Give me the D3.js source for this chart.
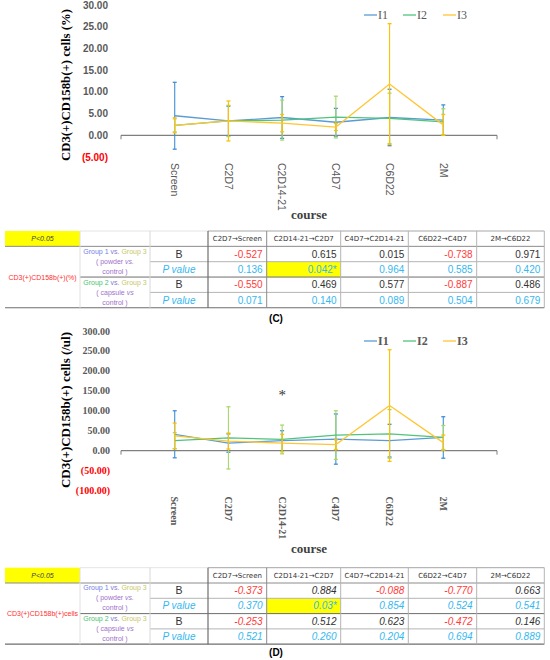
<!DOCTYPE html>
<meta charset="utf-8">
<head>
<style>
  body { margin: 0; background: #fff; }
  svg { display: block; }
</style>
</head>
<body>
<div id="chart"></div>
<script src="https://d3js.org/d3.v7.min.js"></script>
<script>
// categories and series
var categories = ["Screen", "C2D7", "C2D14-21", "C4D7", "C6D22", "2M"];
var seriesNames = ["I1", "I2", "I3"];

// panel C : CD3(+)CD158b(+) cells (%)
var pctI1 = [4.5, 3.3, 4.1, 3.0, 4.1, 3.5];
var pctI2 = [2.3, 3.3, 3.5, 4.2, 3.9, 3.1];
var pctI3 = [2.3, 3.3, 2.8, 1.9, 11.8, 2.4];
var pctI1Err = [7.7, 3.4, 4.8, 3.2, 6.5, 3.5];
var pctI2Err = [1.5, 3.6, 4.6, 4.8, 5.8, 3.0];
var pctI3Err = [1.7, 4.6, 2.0, 0.8, 13.9, 2.4];
var pctTicks = [-5, 0, 5, 10, 15, 20, 25, 30];

// panel D : CD3(+)CD158b(+) cells (/ul)
var cntI1 = [41, 19, 25, 29, 25, 33];
var cntI2 = [25, 32, 28, 39, 42, 33];
var cntI3 = [37, 24, 19, 15, 113, 20];
var cntI1Err = [59, 23, 25, 63, 41, 52];
var cntI2Err = [20, 78, 36, 61, 61, 30];
var cntI3Err = [32, 20, 22, 12, 140, 19];
var cntTicks = [-100, -50, 0, 50, 100, 150, 200, 250, 300];

// regression tables
var transitions = ["C2D7\u2192Screen", "C2D14-21\u2192C2D7", "C4D7\u2192C2D14-21", "C6D22\u2192C4D7", "2M\u2192C6D22"];
var tblC_B1 = ["-0.527", "0.615", "0.015", "-0.738", "0.971"];
var tblC_P1 = ["0.136", "0.042*", "0.964", "0.585", "0.420"];
var tblC_B2 = ["-0.550", "0.469", "0.577", "-0.887", "0.486"];
var tblC_P2 = ["0.071", "0.140", "0.089", "0.504", "0.679"];
var tblD_B1 = ["-0.373", "0.884", "-0.088", "-0.770", "0.663"];
var tblD_P1 = ["0.370", "0.03*", "0.854", "0.524", "0.541"];
var tblD_B2 = ["-0.253", "0.512", "0.623", "-0.472", "0.146"];
var tblD_P2 = ["0.521", "0.260", "0.204", "0.694", "0.889"];

var lineColor = {I1: "#5b9bd5", I2: "#4fc47a", I3: "#ffc533"};
var errColor = {I1: "#3f8fd6", I2: "#a8d86a", I3: "#ffc000"};
var serif = "'Liberation Serif', 'Times New Roman', serif";
var sans = "'Liberation Sans', Arial, sans-serif";

var svg = d3.select("#chart").append("svg")
  .attr("width", 550)
  .attr("height", 660);

// x scale shared by both charts: one empty slot each side
var x = d3.scalePoint()
  .domain(["_a"].concat(categories, ["_b"]))
  .range([121, 497]);

function drawChart(o) {
  var y = d3.scaleLinear().domain(o.domain).range(o.range);
  var g = svg.append("g");

  // y tick labels
  g.selectAll(".ytick")
    .data(o.ticks)
    .enter().append("text")
      .attr("x", o.tickX)
      .attr("y", function(d) { return y(d); })
      .attr("dy", "0.35em")
      .attr("text-anchor", "end")
      .style("font-family", o.tickFont)
      .style("font-weight", "bold")
      .style("font-size", o.tickSize + "px")
      .style("fill", function(d) { return d < 0 ? "#ff0000" : "#595959"; })
      .text(function(d) { return d < 0 ? "(" + (-d).toFixed(2) + ")" : d.toFixed(2); });

  // y title
  g.append("text")
    .attr("transform", "translate(" + o.titleX + "," + o.titleY + ") rotate(-90)")
    .attr("text-anchor", "middle")
    .attr("textLength", o.titleLen)
    .attr("lengthAdjust", "spacingAndGlyphs")
    .style("font-family", serif)
    .style("font-weight", "bold")
    .style("font-size", "13px")
    .style("fill", "#000")
    .text(o.title);

  // x axis line at zero
  var y0 = y(0);
  g.append("line")
    .attr("x1", 121).attr("x2", 497)
    .attr("y1", y0).attr("y2", y0)
    .attr("stroke", "#7f7f7f").attr("stroke-width", 1.3);
  g.selectAll(".endtick")
    .data([121, 497])
    .enter().append("line")
      .attr("x1", function(d) { return d; })
      .attr("x2", function(d) { return d; })
      .attr("y1", y0).attr("y2", y0 + 4)
      .attr("stroke", "#7f7f7f").attr("stroke-width", 1);

  // category labels (rotated, below plot)
  var labY = y(o.domain[0]) + 6;
  g.selectAll(".cat")
    .data(categories)
    .enter().append("text")
      .attr("transform", function(d) { return "translate(" + x(d) + "," + labY + ") rotate(90)"; })
      .attr("dy", "0.35em")
      .style("font-family", o.catFont)
      .style("font-weight", o.catWeight)
      .style("font-size", o.catSize + "px")
      .style("fill", "#595959")
      .text(function(d) { return d; });

  // course
  g.append("text")
    .attr("x", 309).attr("y", o.courseY)
    .attr("text-anchor", "middle")
    .style("font-family", serif)
    .style("font-weight", "bold")
    .style("font-size", "13px")
    .style("fill", "#404040")
    .text("course");

  // series lines with error bars
  var line = d3.line()
    .x(function(d) { return x(d.cat); })
    .y(function(d) { return y(d.v); });

  seriesNames.forEach(function(name, i) {
    var pts = categories.map(function(c, j) {
      return {cat: c, v: o.values[i][j], e: o.errors[i][j]};
    });
    var sg = g.append("g");
    sg.selectAll(".eb")
      .data(pts)
      .enter().append("line")
        .attr("x1", function(d) { return x(d.cat); })
        .attr("x2", function(d) { return x(d.cat); })
        .attr("y1", function(d) { return y(d.v + d.e); })
        .attr("y2", function(d) { return y(d.v - d.e); })
        .attr("stroke", errColor[name]).attr("stroke-width", 1.1);
    var caps = [];
    pts.forEach(function(d) { caps.push({cat: d.cat, v: d.v + d.e}); caps.push({cat: d.cat, v: d.v - d.e}); });
    sg.selectAll(".cap")
      .data(caps)
      .enter().append("line")
        .attr("x1", function(d) { return x(d.cat) - 2; })
        .attr("x2", function(d) { return x(d.cat) + 2; })
        .attr("y1", function(d) { return y(d.v); })
        .attr("y2", function(d) { return y(d.v); })
        .attr("stroke", errColor[name]).attr("stroke-width", 1.3);
    sg.append("path")
      .attr("d", line(pts))
      .attr("fill", "none")
      .attr("stroke", lineColor[name])
      .attr("stroke-width", 1.3);
  });

  // legend
  var legX = [364, 403, 443];
  seriesNames.forEach(function(name, i) {
    g.append("line")
      .attr("x1", legX[i]).attr("x2", legX[i] + 13)
      .attr("y1", o.legendY).attr("y2", o.legendY)
      .attr("stroke", lineColor[name]).attr("stroke-width", 1.3);
    g.append("text")
      .attr("x", legX[i] + 14).attr("y", o.legendY)
      .attr("dy", "0.35em")
      .style("font-family", serif)
      .style("font-weight", o.legendWeight)
      .style("font-size", "12px")
      .style("fill", "#595959")
      .text(name);
  });
  return y;
}

drawChart({
  domain: [-5, 30], range: [157, 5], ticks: pctTicks,
  tickX: 108, tickFont: sans, tickSize: 10,
  title: "CD3(+)CD158b(+) cells (%)", titleX: 70, titleY: 85, titleLen: 152,
  catFont: sans, catWeight: "normal", catSize: 10.5,
  courseY: 219, legendY: 15, legendWeight: "normal",
  values: [pctI1, pctI2, pctI3], errors: [pctI1Err, pctI2Err, pctI3Err]
});

drawChart({
  domain: [-100, 300], range: [490.5, 331], ticks: cntTicks,
  tickX: 110, tickFont: serif, tickSize: 10,
  title: "CD3(+)CD158b(+) cells (/ul)", titleX: 70, titleY: 410, titleLen: 156,
  catFont: serif, catWeight: "bold", catSize: 10,
  courseY: 553, legendY: 341, legendWeight: "bold",
  values: [cntI1, cntI2, cntI3], errors: [cntI1Err, cntI2Err, cntI3Err]
});

// significance mark over C2D14-21
svg.append("text")
  .attr("x", x("C2D14-21")).attr("y", 400)
  .attr("text-anchor", "middle")
  .style("font-family", serif)
  .style("font-size", "15px")
  .style("fill", "#333")
  .text("*");

// ---------- tables ----------
var colX = [5, 80, 150, 208, 266.7, 340.7, 408.3, 476.7, 544.3];

function drawTable(o) {
  var t = svg.append("g");
  var top = o.top, rh = o.rowH;
  var rows = [top, top + rh, top + 2 * rh, top + 3 * rh, top + 4 * rh, top + 5 * rh];

  t.append("rect")
    .attr("x", colX[0]).attr("y", rows[0])
    .attr("width", colX[1] - colX[0]).attr("height", rh)
    .attr("fill", "#ffff00");
  t.append("rect")
    .attr("x", colX[4]).attr("y", rows[2])
    .attr("width", colX[5] - colX[4]).attr("height", rh)
    .attr("fill", "#ffff00");

  function hline(y, x1, x2, c, w) {
    t.append("line").attr("x1", x1).attr("x2", x2).attr("y1", y).attr("y2", y)
      .attr("stroke", c).attr("stroke-width", w);
  }
  function vline(xv, y1, y2, c, w) {
    t.append("line").attr("x1", xv).attr("x2", xv).attr("y1", y1).attr("y2", y2)
      .attr("stroke", c).attr("stroke-width", w);
  }
  hline(rows[0], colX[3], colX[8], "#a6a6a6", 1);
  hline(rows[0], colX[1], colX[3], "#e4e4e4", 1);
  hline(rows[1], colX[0], colX[8], "#8c8c8c", 1);
  hline(rows[2], colX[2], colX[8], "#b4b4b4", 1);
  hline(rows[3], colX[1], colX[8], "#6e6e6e", 1);
  hline(rows[4], colX[2], colX[8], "#b4b4b4", 1);
  hline(rows[5], colX[0], colX[8], "#6e6e6e", 1.2);
  vline(colX[1], rows[0], rows[5], "#e0e0e0", 1);
  vline(colX[2], rows[0], rows[5], "#d8d8d8", 1);
  vline(colX[3], rows[0], rows[5], "#6e6e6e", 1.2);
  vline(colX[4], rows[0], rows[5], "#8c8c8c", 1);
  [colX[5], colX[6], colX[7], colX[8]].forEach(function(xv) {
    vline(xv, rows[0], rows[5], "#b4b4b4", 1);
  });

  // P<0.05
  t.append("text")
    .attr("x", (colX[0] + colX[1]) / 2).attr("y", rows[0] + rh / 2)
    .attr("dy", "0.35em").attr("text-anchor", "middle")
    .style("font-family", sans).style("font-style", "italic")
    .style("font-size", "7px").style("fill", "#404040")
    .text("P<0.05");

  // row header
  t.append("text")
    .attr("x", (colX[0] + colX[1]) / 2).attr("y", rows[3])
    .attr("dy", "0.35em").attr("text-anchor", "middle")
    .style("font-family", sans).style("font-size", "7px")
    .style("fill", "#ff3030")
    .text(o.label);

  // group descriptions
  var groups = [
    {g: "Group 1", gc: "#6f7fe6", sub: "( powder ", end: "control )", y: rows[1] + 5},
    {g: "Group 2", gc: "#46c46e", sub: "( capsule ", end: "control )", y: rows[3] + 5}
  ];
  var gx = (colX[1] + colX[2]) / 2;
  groups.forEach(function(d) {
    var l1 = t.append("text").attr("x", gx).attr("y", d.y).attr("dy", "0.35em")
      .attr("text-anchor", "middle")
      .style("font-family", sans).style("font-size", "7px");
    l1.append("tspan").style("fill", d.gc).text(d.g);
    l1.append("tspan").style("fill", "#8a78d0").text(" vs. ");
    l1.append("tspan").style("fill", "#c9c66a").text("Group 3");
    var l2 = t.append("text").attr("x", gx).attr("y", d.y + 10).attr("dy", "0.35em")
      .attr("text-anchor", "middle")
      .style("font-family", sans).style("font-size", "7px").style("fill", "#a070cc");
    l2.append("tspan").text(d.sub);
    l2.append("tspan").style("font-style", "italic").text(d.g === "Group 1" ? "vs." : "vs");
    t.append("text").attr("x", gx).attr("y", d.y + 20).attr("dy", "0.35em")
      .attr("text-anchor", "middle")
      .style("font-family", sans).style("font-size", "7px").style("fill", "#a070cc")
      .text(d.end);
  });

  // B / P value column
  var cx3 = (colX[2] + colX[3]) / 2;
  [0, 1, 2, 3].forEach(function(r) {
    var isB = r % 2 === 0;
    t.append("text")
      .attr("x", cx3).attr("y", rows[r + 1] + rh / 2)
      .attr("dy", "0.35em").attr("text-anchor", "middle")
      .style("font-family", sans)
      .style("font-style", isB ? "normal" : "italic")
      .style("font-size", isB ? "10.5px" : "10px")
      .style("fill", isB ? "#333" : "#35b8f0")
      .text(isB ? "B" : "P value");
  });

  // column headers
  transitions.forEach(function(h, i) {
    t.append("text")
      .attr("x", (colX[i + 3] + colX[i + 4]) / 2).attr("y", rows[0] + rh / 2)
      .attr("dy", "0.35em").attr("text-anchor", "middle")
      .style("font-family", "'DejaVu Sans', sans-serif").style("font-size", "7px")
      .style("fill", "#333")
      .text(h);
  });

  // values
  var data = [o.b1, o.p1, o.b2, o.p2];
  data.forEach(function(arr, r) {
    var isB = r % 2 === 0;
    arr.forEach(function(v, i) {
      t.append("text")
        .attr("x", colX[i + 4] - 4).attr("y", rows[r + 1] + rh / 2)
        .attr("dy", "0.35em").attr("text-anchor", "end")
        .style("font-family", sans).style("font-size", "10px")
        .style("font-style", o.italic ? "italic" : "normal")
        .style("fill", isB ? (v.charAt(0) === "-" ? "#ff3b3b" : "#333") : "#35b8f0")
        .text(v);
    });
  });

  // panel letter
  t.append("text")
    .attr("x", 276).attr("y", o.letterY)
    .attr("text-anchor", "middle")
    .style("font-family", sans).style("font-weight", "bold")
    .style("font-size", "10px").style("fill", "#000")
    .text(o.letter);
}

drawTable({top: 231, rowH: 15.35, label: "CD3(+)CD158b(+)(%)",
  b1: tblC_B1, p1: tblC_P1, b2: tblC_B2, p2: tblC_P2,
  italic: false, letter: "(C)", letterY: 322});

drawTable({top: 567.7, rowH: 15.3, label: "CD3(+)CD158b(+)cells",
  b1: tblD_B1, p1: tblD_P1, b2: tblD_B2, p2: tblD_P2,
  italic: true, letter: "(D)", letterY: 656});
</script>
</body>
